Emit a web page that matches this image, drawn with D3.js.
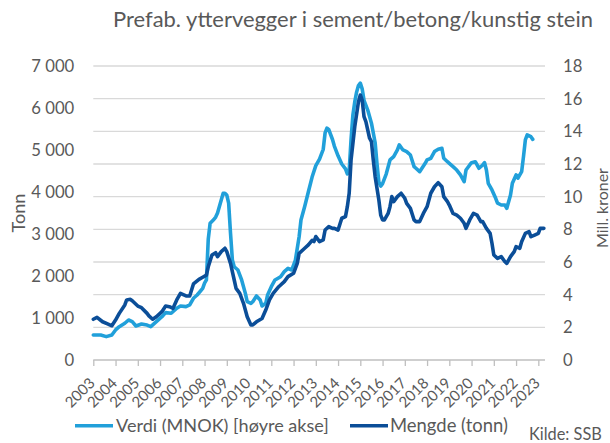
<!DOCTYPE html>
<html>
<head>
<meta charset="utf-8">
<script src="https://cdn.jsdelivr.net/npm/d3@7"></script>
<style>
  html, body { margin: 0; padding: 0; background: #ffffff; }
  svg { display: block; }
  text { font-family: "Lato", "Open Sans", sans-serif; fill: #595959; }
</style>
</head>
<body>
<svg id="chart" width="610" height="443"></svg>
<script>
// ---------- DATA ----------
const titleText = "Prefab. yttervegger i sement/betong/kunstig stein";
const yearLabels = d3.range(2003, 2024);           // x tick labels
const leftTicks = [0, 1000, 2000, 3000, 4000, 5000, 6000, 7000];   // Tonn
const rightTicks = [0, 2, 4, 6, 8, 10, 12, 14, 16, 18];            // Mill. kroner

// Mengde (tonn) – left axis
const mengdeMonths = ["2003-01","2003-03","2003-06","2003-09","2003-11","2004-01","2004-03","2004-06","2004-07","2004-09","2004-10",
  "2005-01","2005-03","2005-06","2005-07","2005-09","2005-11","2006-02","2006-04","2006-06","2006-08","2006-10","2006-12",
  "2007-03","2007-05","2007-07","2007-10","2007-12","2008-02","2008-03","2008-05","2008-07","2008-08","2008-10","2008-12",
  "2009-01","2009-03","2009-05","2009-06","2009-08","2009-10","2009-12","2010-02","2010-03","2010-05","2010-08","2010-10","2010-12",
  "2011-02","2011-05","2011-08","2011-10","2012-01","2012-03","2012-04","2012-07","2012-09","2012-11","2012-12",
  "2013-01","2013-03","2013-05","2013-06","2013-08","2013-10","2013-11","2014-01","2014-03","2014-05","2014-06","2014-07","2014-08","2014-10","2014-12",
  "2015-01","2015-02","2015-03","2015-04","2015-06","2015-07","2015-08","2015-09","2015-11","2015-12",
  "2016-01","2016-02","2016-04","2016-05","2016-06","2016-07","2016-09","2016-11","2017-01","2017-02","2017-04","2017-06","2017-07","2017-09","2017-11",
  "2018-01","2018-02","2018-03","2018-05","2018-07","2018-09","2018-10","2018-12","2019-01","2019-03","2019-05","2019-07","2019-09","2019-10","2019-12",
  "2020-02","2020-04","2020-06","2020-07","2020-09","2020-11","2020-12","2021-01","2021-03","2021-05","2021-07","2021-08","2021-10","2021-12",
  "2022-01","2022-03","2022-04","2022-06","2022-08","2022-09","2022-11","2023-01","2023-02","2023-04"];
const mengde = [970,1015,910,855,815,950,1110,1310,1430,1445,1410,
  1285,1245,1110,1050,970,1030,1150,1285,1270,1230,1430,1585,
  1525,1525,1810,1920,1970,2020,2220,2500,2555,2460,2580,2660,
  2580,2300,1905,1705,1585,1350,1030,835,835,910,990,1190,1430,
  1585,1745,1865,1985,2065,2300,2540,2660,2740,2850,2820,
  2940,2820,2860,3095,3175,3135,3135,3095,3375,3415,3650,3970,4760,5555,6150,
  6310,6190,5795,5675,5280,5200,4760,4365,3810,3450,
  3335,3335,3490,3650,3890,3770,3890,3970,3850,3730,3610,3335,3295,3295,3490,
  3650,3810,3970,4125,4220,4125,3890,3770,3690,3490,3450,3375,3255,3135,3335,
  3490,3450,3295,3295,3135,3015,2780,2500,2420,2460,2340,2300,2460,2580,
  2700,2660,2815,3015,3055,2935,2975,3015,3135,3135];

// Verdi (MNOK) – right axis
const verdiMonths = ["2003-01","2003-05","2003-08","2003-11","2004-01","2004-03","2004-06","2004-08","2004-10","2004-12",
  "2005-03","2005-06","2005-08","2005-11","2006-02","2006-04","2006-07","2006-10","2006-12","2007-03","2007-05","2007-07","2007-09","2007-12",
  "2008-01","2008-02","2008-03","2008-04","2008-06","2008-07","2008-08","2008-09","2008-10","2008-11","2008-12",
  "2009-01","2009-02","2009-03","2009-04","2009-05","2009-07","2009-09","2009-11","2009-12",
  "2010-02","2010-03","2010-05","2010-07","2010-08","2010-10","2010-11","2011-01","2011-03","2011-06","2011-08","2011-10","2011-12",
  "2012-02","2012-04","2012-05","2012-07","2012-09","2012-11","2013-01","2013-03","2013-05","2013-06","2013-07","2013-08","2013-10","2013-11",
  "2014-01","2014-03","2014-05","2014-06","2014-07","2014-08","2014-09","2014-10","2014-11","2014-12",
  "2015-01","2015-02","2015-03","2015-05","2015-07","2015-09","2015-10","2015-11","2015-12",
  "2016-01","2016-03","2016-05","2016-07","2016-09","2016-10","2016-12","2017-02","2017-04","2017-06","2017-07","2017-09","2017-12",
  "2018-01","2018-03","2018-05","2018-07","2018-09","2018-10","2018-12","2019-01","2019-03","2019-05","2019-07","2019-09","2019-10","2019-12",
  "2020-01","2020-03","2020-05","2020-07","2020-08","2020-09","2020-10","2020-12","2021-02","2021-03","2021-05","2021-07","2021-08","2021-10","2021-11",
  "2022-01","2022-02","2022-04","2022-05","2022-06","2022-07","2022-09","2022-10"];
const verdi = [1.53,1.53,1.43,1.53,1.84,2.04,2.25,2.45,2.35,2.08,
  2.2,2.14,2.04,2.35,2.65,2.9,2.86,3.17,3.31,3.27,3.37,3.78,3.98,4.39,
  4.7,4.9,7.4,8.37,8.6,8.75,9.0,9.4,9.8,10.2,10.2,
  10.1,9.6,7.76,6.12,5.71,5.51,4.9,4.08,3.57,
  3.47,3.57,3.92,3.67,3.31,3.47,3.98,4.49,4.9,5.1,5.41,5.61,5.51,
  6.12,7.55,8.57,9.4,10.3,11.2,11.9,12.3,12.9,13.9,14.2,14.1,13.5,13.1,
  12.5,12.0,11.7,11.4,11.6,13.5,15.0,15.8,16.4,16.8,
  16.95,16.6,15.9,15.3,14.5,13.3,12.0,10.9,10.65,
  10.8,11.4,12.25,12.45,12.86,13.17,12.86,12.76,12.55,11.84,11.74,11.53,12.04,
  12.25,12.35,12.76,12.9,12.96,12.35,12.14,12.04,11.84,11.63,11.33,10.92,11.63,11.94,
  12.08,12.14,11.74,11.94,12.08,11.63,10.82,10.41,9.9,9.6,9.49,9.49,9.29,10.1,10.82,
  11.33,11.13,11.53,12.45,13.47,13.78,13.67,13.51];

const seriesNames = ["Verdi (MNOK) [høyre akse]", "Mengde (tonn)"];
const sourceText = "Kilde: SSB";
const leftTitle = "Tonn";
const rightTitle = "Mill. kroner";

// ---------- DRAW ----------
const svg = d3.select("#chart");
const colLight = "#21a0da", colDark = "#0b4e98", txt = "#595959";
const monthIndex = s => { const [y, m] = s.split("-").map(Number); return (y - 2003) * 12 + (m - 1); };

const x = d3.scaleLinear().domain([0, 243.6]).range([93.3, 545]);
const yL = d3.scaleLinear().domain([0, 7000]).range([360, 66]);
const yR = d3.scaleLinear().domain([0, 18]).range([360, 66]);

function fit(sel, target) {
  const base = 16;
  sel.style("font-size", base + "px");
  const len = sel.node().getComputedTextLength();
  sel.style("font-size", (base * target / len) + "px");
  return sel;
}

// gridlines (right axis)
svg.append("g").selectAll("line").data(rightTicks.filter(d => d > 0)).join("line")
  .attr("x1", x(0)).attr("x2", x(243.6))
  .attr("y1", d => yR(d)).attr("y2", d => yR(d))
  .attr("stroke", "#d9d9d9").attr("stroke-width", 1.3);

// x axis
const xAxis = d3.axisBottom(x)
  .tickValues(yearLabels.map(y => (y - 2003) * 12))
  .tickSize(6).tickSizeOuter(0)
  .tickFormat(d => String(2003 + d / 12));
const gx = svg.append("g").attr("transform", "translate(0,360)").call(xAxis);
gx.select(".domain").remove();
gx.selectAll(".tick line").attr("stroke", "#bfbfbf").attr("stroke-width", 1.3);
gx.selectAll(".tick text")
  .attr("x", 0).attr("y", 0).attr("dy", 0)
  .attr("text-anchor", "end")
  .attr("transform", "translate(2,24) rotate(-45)")
  .style("font-size", "15px").style("font-family", "Lato").attr("fill", txt);
svg.append("line").attr("x1", x(0)).attr("x2", x(243.6)).attr("y1", 360).attr("y2", 360)
  .attr("stroke", "#bfbfbf").attr("stroke-width", 1.3);

// left axis
const fmt = d3.formatLocale({ decimal: ",", thousands: " ", grouping: [3], currency: ["", ""] }).format(",d");
const gl = svg.append("g").attr("transform", "translate(93.3,0)")
  .call(d3.axisLeft(yL).tickValues(leftTicks).tickSize(0).tickPadding(19).tickFormat(fmt));
gl.select(".domain").remove();
gl.selectAll("text").style("font-size", "16.7px").style("font-family", "Lato").attr("fill", txt);

// right axis
const gr = svg.append("g").attr("transform", "translate(545,0)")
  .call(d3.axisRight(yR).tickValues(rightTicks).tickSize(0).tickPadding(18).tickFormat(d3.format("d")));
gr.select(".domain").remove();
gr.selectAll("text").style("font-size", "16.7px").style("font-family", "Lato").attr("fill", txt);

// lines
const verdiData = verdiMonths.map((m, i) => [monthIndex(m), verdi[i]]);
const mengdeData = mengdeMonths.map((m, i) => [monthIndex(m), mengde[i]]);
svg.append("path").datum(verdiData)
  .attr("fill", "none").attr("stroke", colLight).attr("stroke-width", 3.6)
  .attr("stroke-linejoin", "round").attr("stroke-linecap", "round")
  .attr("d", d3.line().x(d => x(d[0])).y(d => yR(d[1])));
svg.append("path").datum(mengdeData)
  .attr("fill", "none").attr("stroke", colDark).attr("stroke-width", 3.6)
  .attr("stroke-linejoin", "round").attr("stroke-linecap", "round")
  .attr("d", d3.line().x(d => x(d[0])).y(d => yL(d[1])));

// title
const t = svg.append("text").attr("x", 353).attr("y", 27).attr("text-anchor", "middle").text(titleText);
fit(t, 480);

// axis titles
const lt = svg.append("text").attr("text-anchor", "middle").attr("dominant-baseline", "central")
  .attr("transform", "translate(18,213) rotate(-90)").text(leftTitle);
fit(lt, 39);
const rt = svg.append("text").attr("text-anchor", "middle").attr("dominant-baseline", "central")
  .attr("transform", "translate(601,208) rotate(-90)").text(rightTitle);
fit(rt, 80);

// legend
svg.append("line").attr("x1", 75).attr("x2", 113).attr("y1", 425.7).attr("y2", 425.7)
  .attr("stroke", colLight).attr("stroke-width", 3.6);
fit(svg.append("text").attr("x", 116).attr("y", 432).text(seriesNames[0]), 213);
svg.append("line").attr("x1", 350).attr("x2", 388).attr("y1", 425.7).attr("y2", 425.7)
  .attr("stroke", colDark).attr("stroke-width", 3.6);
fit(svg.append("text").attr("x", 390).attr("y", 432).text(seriesNames[1]), 118);

// source
fit(svg.append("text").attr("x", 529).attr("y", 440).text(sourceText), 73);
</script>
</body>
</html>
